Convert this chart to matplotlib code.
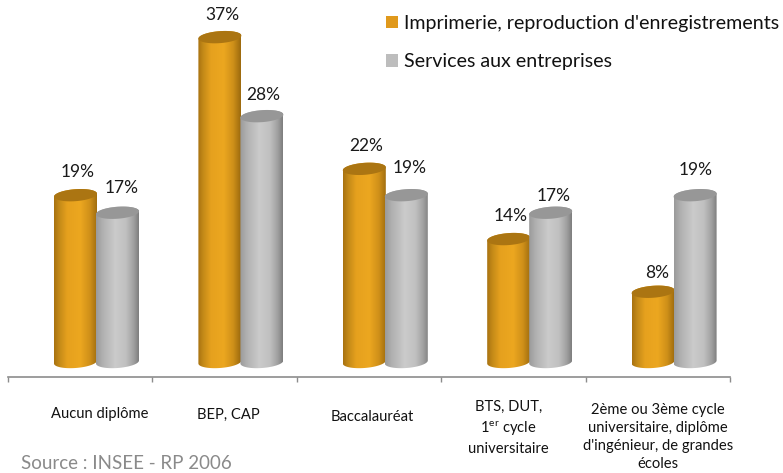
import matplotlib
matplotlib.use("Agg")
import matplotlib.pyplot as plt
from matplotlib.colors import LinearSegmentedColormap
from matplotlib.patches import Patch, Polygon
import numpy as np

plt.rcParams["font.family"] = ["Lato", "DejaVu Sans"]
plt.rcParams["mathtext.fontset"] = "custom"
plt.rcParams["mathtext.rm"] = "Lato"
plt.rcParams["mathtext.default"] = "regular"

CATEGORIES = [
    "Aucun diplôme",
    "BEP, CAP",
    "Baccalauréat",
    "BTS, DUT,\n1$^{er}$ cycle\nuniversitaire",
    "2ème ou 3ème cycle\nuniversitaire, diplôme\nd'ingénieur, de grandes\nécoles",
]
SERIES_NAMES = ["Imprimerie, reproduction d'enregistrements", "Services aux entreprises"]
IMPRIMERIE = [19, 37, 22, 14, 8]
SERVICES = [17, 28, 19, 17, 19]
SOURCE = "Source : INSEE - RP 2006"

W, H = 783, 473
X0, X1 = 8, 730
AXIS_Y = 377
ZERO_Y = 362
PX_PER_PCT = 8.78
PX_PER_CAT = (X1 - X0) / 5
BAR_W = 43
ORANGE_X = 75.5
GREY_X = 117.5
LABEL_DX = [20, 4, 3, -5, 0]
LABEL_Y = [414, 415, 417, 428, 437]
# pixel offsets of the percent labels from the top of each bar
ORANGE_OFFSETS = [(2.5, 23), (2, 22), (2, 23), (2, 23), (4, 19)]
GREY_OFFSETS = [(4.5, 25), (1, 21), (3, 27), (3, 17), (1, 25)]

ORANGE = LinearSegmentedColormap.from_list(
    "orange", [(0, "#a87210"), (0.12, "#c48a18"), (0.3, "#e6a11e"), (0.6, "#eca720"), (0.82, "#cf9019"), (1, "#9c6a0e")]
)
GREY = LinearSegmentedColormap.from_list(
    "grey", [(0, "#9a9a9a"), (0.15, "#b0b0b0"), (0.45, "#cbcbcb"), (0.7, "#c0c0c0"), (0.88, "#a0a0a0"), (1, "#7e7e7e")]
)


def outline(xc, value, start, stop, a=BAR_W / 2, b=6.0, tilt=0.07):
    t = np.linspace(start, stop, 50)
    dx = a * np.cos(t)
    dy = b * np.sin(t) + tilt * dx
    return np.column_stack((xc + dx / PX_PER_CAT, value + dy / PX_PER_PCT))


def draw_cylinder(ax, xc, value, cmap, top_color, zorder):
    bottom = outline(xc, 0, np.pi, 2 * np.pi)
    top = outline(xc, value, 0, np.pi)
    body = Polygon(np.vstack((bottom, top)), closed=True, facecolor="none", edgecolor="none", zorder=zorder)
    ax.add_patch(body)
    half = BAR_W / 2 / PX_PER_CAT
    img = ax.imshow(
        np.linspace(0, 1, 128).reshape(1, -1),
        cmap=cmap,
        extent=(xc - half, xc + half, -1.5, value + 1.5),
        aspect="auto",
        interpolation="bilinear",
        zorder=zorder,
    )
    img.set_clip_path(body)
    cap = outline(xc, value, 0, 2 * np.pi)
    ax.add_patch(Polygon(cap, closed=True, facecolor=top_color, edgecolor="none", zorder=zorder + 0.1))


def value_label(ax, xv, value, offset):
    ax.annotate(
        f"{value}%", (xv, value), xytext=(offset[0] * 0.72, offset[1] * 0.72), textcoords="offset points",
        ha="center", va="center", fontsize=12.5, color="#1a1a1a", annotation_clip=False, zorder=20,
    )


fig = plt.figure(figsize=(W / 100, H / 100), dpi=100)
ax = fig.add_axes([X0 / W, 1 - AXIS_Y / H, (X1 - X0) / W, AXIS_Y / H])
ax.patch.set_alpha(0)

x = np.arange(len(CATEGORIES))
for i, (a, b) in enumerate(zip(IMPRIMERIE, SERVICES)):
    xa = x[i] + (ORANGE_X - X0) / PX_PER_CAT
    xb = x[i] + (GREY_X - X0) / PX_PER_CAT
    draw_cylinder(ax, xa, a, ORANGE, "#ab7512", 2 + i)
    draw_cylinder(ax, xb, b, GREY, "#979797", 2.5 + i)
    value_label(ax, xa, a, ORANGE_OFFSETS[i])
    value_label(ax, xb, b, GREY_OFFSETS[i])

ax.set_xlim(0, 5)
ax.set_ylim(-(AXIS_Y - ZERO_Y) / PX_PER_PCT, ZERO_Y / PX_PER_PCT)
for side in ("top", "left", "right"):
    ax.spines[side].set_visible(False)
ax.spines["bottom"].set_color("#8c8c8c")
ax.spines["bottom"].set_linewidth(1.2)
ax.set_yticks([])
ax.set_xticks(np.arange(6))
ax.set_xticklabels([])
ax.tick_params(axis="x", direction="out", length=3.5, width=1, color="#8c8c8c")

for i, label in enumerate(CATEGORIES):
    px = X0 + (i + 0.5) * PX_PER_CAT + LABEL_DX[i]
    fig.text(px / W, 1 - LABEL_Y[i] / H, label, ha="center", va="center", fontsize=10.6, color="#111111", linespacing=1.38)

handles = [Patch(facecolor="#e0991c"), Patch(facecolor="#bdbdbd")]
fig.legend(
    handles, SERIES_NAMES, loc="upper left", bbox_to_anchor=(386 / W, 1 - 15 / H), frameon=False,
    fontsize=14.15, handlelength=0.62, handleheight=0.62, handletextpad=0.31, labelspacing=1.08,
    borderpad=0, borderaxespad=0, labelcolor="#111111",
)

fig.text(21 / W, 1 - 468.5 / H, SOURCE, ha="left", va="baseline", fontsize=13.5, color="#8a8a8a")

fig.savefig("out.png", dpi=100)
